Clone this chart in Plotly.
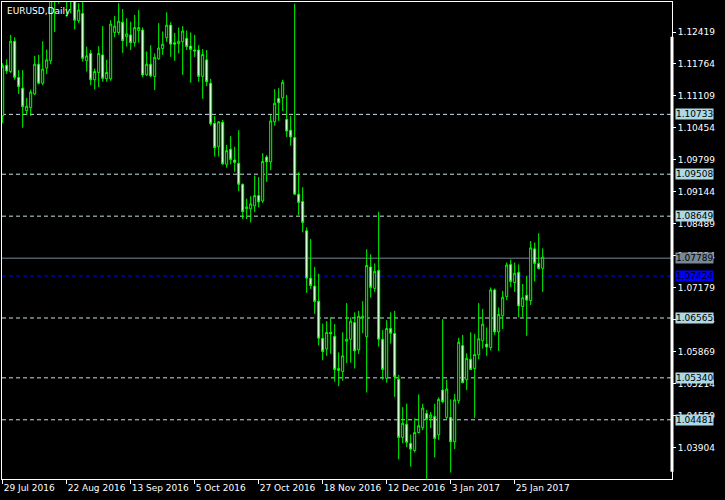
import pandas as pd
import plotly.graph_objects as go

# ---- data (EURUSD daily) ----
dates = [d.strftime("%Y-%m-%d") for d in pd.bdate_range("2016-07-29", "2017-02-03")]

opens = [1.1070, 1.1174, 1.1161, 1.1223, 1.1149, 1.1127, 1.1081, 1.1087, 1.1115, 1.1176,
         1.1137, 1.1168, 1.1183, 1.1310, 1.1320, 1.1350, 1.1325, 1.1320, 1.1310, 1.1265,
         1.1280, 1.1183, 1.1198, 1.1144, 1.1159, 1.1195, 1.1146, 1.1146, 1.1241, 1.1241,
         1.1262, 1.1232, 1.1236, 1.1220, 1.1245, 1.1246, 1.1154, 1.1176, 1.1151, 1.1187,
         1.1208, 1.1230, 1.1256, 1.1220, 1.1218, 1.1222, 1.1229, 1.1213, 1.1205, 1.1205,
         1.1151, 1.1185, 1.1137, 1.1055, 1.1007, 1.1057, 1.0971, 1.1002, 1.0980, 1.0973,
         1.0930, 1.0880, 1.0880, 1.0886, 1.0907, 1.0896, 1.0986, 1.0976, 1.1058, 1.1106,
         1.1107, 1.1063, 1.1041, 1.1026, 1.0910, 1.0895, 1.0835, 1.0738, 1.0722, 1.0691,
         1.0615, 1.0593, 1.0627, 1.0619, 1.0553, 1.0547, 1.0609, 1.0613, 1.0647, 1.0591,
         1.0656, 1.0618, 1.0761, 1.0717, 1.0754, 1.0613, 1.0533, 1.0635, 1.0625, 1.0531,
         1.0412, 1.0439, 1.0400, 1.0385, 1.0422, 1.0432, 1.0461, 1.0452, 1.0455, 1.0417,
         1.0509, 1.0453, 1.0453, 1.0403, 1.0487, 1.0600, 1.0530, 1.0572, 1.0553, 1.0581,
         1.0610, 1.0603, 1.0596, 1.0714, 1.0628, 1.0661, 1.0700, 1.0766, 1.0729, 1.0750,
         1.0680, 1.0703, 1.0692, 1.0798, 1.0768, 1.0758]

highs = [1.1178, 1.1186, 1.1236, 1.1231, 1.1164, 1.1164, 1.1107, 1.1124, 1.1193, 1.1195,
         1.1223, 1.1206, 1.1330, 1.1340, 1.1366, 1.1360, 1.1340, 1.1335, 1.1320, 1.1301,
         1.1340, 1.1212, 1.1205, 1.1167, 1.1213, 1.1254, 1.1185, 1.1266, 1.1275, 1.1301,
         1.1289, 1.1270, 1.1263, 1.1277, 1.1287, 1.1251, 1.1202, 1.1215, 1.1198, 1.1260,
         1.1243, 1.1282, 1.1262, 1.1240, 1.1251, 1.1254, 1.1245, 1.1241, 1.1236, 1.1215,
         1.1207, 1.1205, 1.1146, 1.1070, 1.1060, 1.1062, 1.1011, 1.1029, 1.1007, 1.1041,
         1.0932, 1.0901, 1.0906, 1.0948, 1.0945, 1.0994, 1.0990, 1.1072, 1.1125, 1.1127,
         1.1144, 1.1113, 1.1070, 1.1300, 1.0955, 1.0924, 1.0842, 1.0818, 1.0761, 1.0747,
         1.0645, 1.0650, 1.0658, 1.0644, 1.0586, 1.0627, 1.0687, 1.0658, 1.0668, 1.0671,
         1.0691, 1.0797, 1.0787, 1.0768, 1.0874, 1.0632, 1.0652, 1.0668, 1.0671, 1.0540,
         1.0474, 1.0481, 1.0418, 1.0451, 1.0500, 1.0481, 1.0468, 1.0464, 1.0481, 1.0494,
         1.0654, 1.0530, 1.0490, 1.0501, 1.0616, 1.0622, 1.0584, 1.0627, 1.0624, 1.0687,
         1.0675, 1.0637, 1.0719, 1.0717, 1.0678, 1.0712, 1.0770, 1.0776, 1.0770, 1.0766,
         1.0726, 1.0743, 1.0814, 1.0811, 1.0830, 1.0799]

lows = [1.1055, 1.1156, 1.1158, 1.1144, 1.1115, 1.1046, 1.1072, 1.1070, 1.1113, 1.1135,
        1.1133, 1.1156, 1.1176, 1.1242, 1.1300, 1.1305, 1.1273, 1.1280, 1.1247, 1.1260,
        1.1181, 1.1161, 1.1133, 1.1124, 1.1129, 1.1140, 1.1140, 1.1142, 1.1231, 1.1236,
        1.1199, 1.1212, 1.1205, 1.1212, 1.1220, 1.1149, 1.1152, 1.1149, 1.1123, 1.1185,
        1.1195, 1.1222, 1.1191, 1.1183, 1.1198, 1.1154, 1.1205, 1.1138, 1.1191, 1.1140,
        1.1105, 1.1131, 1.1050, 1.0987, 1.0987, 1.0970, 1.0964, 1.0971, 1.0956, 1.0916,
        1.0859, 1.0859, 1.0852, 1.0873, 1.0883, 1.0892, 1.0935, 1.0959, 1.1050, 1.1060,
        1.1080, 1.1027, 1.1009, 1.0908, 1.0867, 1.0832, 1.0708, 1.0716, 1.0665, 1.0600,
        1.0570, 1.0579, 1.0583, 1.0526, 1.0517, 1.0528, 1.0564, 1.0565, 1.0553, 1.0583,
        1.0625, 1.0504, 1.0698, 1.0710, 1.0598, 1.0530, 1.0524, 1.0604, 1.0495, 1.0367,
        1.0400, 1.0392, 1.0352, 1.0381, 1.0420, 1.0427, 1.0327, 1.0431, 1.0371, 1.0407,
        1.0482, 1.0450, 1.0340, 1.0388, 1.0481, 1.0523, 1.0509, 1.0550, 1.0452, 1.0572,
        1.0594, 1.0579, 1.0590, 1.0622, 1.0589, 1.0634, 1.0693, 1.0720, 1.0710, 1.0658,
        1.0658, 1.0620, 1.0683, 1.0731, 1.0756, 1.0710]

closes = [1.1172, 1.1162, 1.1223, 1.1149, 1.1130, 1.1089, 1.1090, 1.1119, 1.1176, 1.1137,
          1.1166, 1.1185, 1.1310, 1.1320, 1.1350, 1.1325, 1.1320, 1.1310, 1.1266, 1.1287,
          1.1188, 1.1193, 1.1144, 1.1161, 1.1198, 1.1147, 1.1159, 1.1258, 1.1254, 1.1264,
          1.1224, 1.1238, 1.1220, 1.1251, 1.1251, 1.1154, 1.1176, 1.1152, 1.1190, 1.1209,
          1.1217, 1.1256, 1.1217, 1.1217, 1.1223, 1.1244, 1.1212, 1.1206, 1.1203, 1.1151,
          1.1196, 1.1140, 1.1054, 1.1005, 1.1058, 1.0972, 1.0999, 1.0981, 1.0975, 1.0930,
          1.0874, 1.0884, 1.0890, 1.0907, 1.0894, 1.0977, 1.0976, 1.1060, 1.1096, 1.1097,
          1.1139, 1.1039, 1.1027, 1.0910, 1.0893, 1.0852, 1.0738, 1.0723, 1.0690, 1.0615,
          1.0588, 1.0627, 1.0624, 1.0551, 1.0549, 1.0579, 1.0613, 1.0650, 1.0589, 1.0660,
          1.0660, 1.0764, 1.0719, 1.0752, 1.0613, 1.0551, 1.0635, 1.0625, 1.0536, 1.0412,
          1.0441, 1.0402, 1.0388, 1.0422, 1.0436, 1.0472, 1.0449, 1.0458, 1.0410, 1.0490,
          1.0485, 1.0511, 1.0403, 1.0489, 1.0607, 1.0524, 1.0574, 1.0551, 1.0582, 1.0614,
          1.0644, 1.0597, 1.0714, 1.0628, 1.0664, 1.0699, 1.0765, 1.0731, 1.0748, 1.0681,
          1.0698, 1.0693, 1.0800, 1.0768, 1.0758, 1.0781]

price_ticks = [1.12419, 1.11764, 1.11109, 1.10454, 1.09799, 1.09144, 1.08489,
               1.07834, 1.07179, 1.06524, 1.05869, 1.05214, 1.04559, 1.03904]

date_tick_values = ["2016-07-29", "2016-08-22", "2016-09-13", "2016-10-05", "2016-10-27",
                    "2016-11-18", "2016-12-12", "2017-01-03", "2017-01-25"]
date_tick_labels = ["29 Jul 2016", "22 Aug 2016", "13 Sep 2016", "5 Oct 2016", "27 Oct 2016",
                    "18 Nov 2016", "12 Dec 2016", "3 Jan 2017", "25 Jan 2017"]

hline_levels = [1.10733, 1.09508, 1.08649, 1.06565, 1.05340, 1.04481]
bid_level = 1.07789
blue_level = 1.07424

FONT = "DejaVu Sans"
LIME = "#00FF00"

fig = go.Figure()
fig.add_trace(go.Candlestick(
    x=dates, open=opens, high=highs, low=lows, close=closes,
    increasing=dict(line=dict(color=LIME, width=1), fillcolor="#000000"),
    decreasing=dict(line=dict(color=LIME, width=1), fillcolor="#FFFFFF"),
    whiskerwidth=0, hoverinfo="skip", showlegend=False,
))

shapes = []
annotations = []
for lv in hline_levels:
    shapes.append(dict(type="line", xref="paper", x0=0, x1=1, yref="y", y0=lv, y1=lv,
                       line=dict(color="#C9DDE6", width=1, dash="4px,3px"), layer="below"))
    annotations.append(dict(xref="paper", x=1, xanchor="left", xshift=3, yref="y", y=lv,
                            yanchor="middle", text=f"{lv:.5f}", showarrow=False,
                            bgcolor="#ADD8E6", borderpad=0,
                            font=dict(family=FONT, size=9, color="#000000")))

shapes.append(dict(type="line", xref="paper", x0=0, x1=1, yref="y", y0=bid_level, y1=bid_level,
                   line=dict(color="#778899", width=1), layer="below"))
annotations.append(dict(xref="paper", x=1, xanchor="left", xshift=3, yref="y", y=bid_level,
                        yanchor="middle", text=f"{bid_level:.5f}", showarrow=False,
                        bgcolor="#778899", borderpad=0,
                        font=dict(family=FONT, size=9, color="#000000")))

shapes.append(dict(type="line", xref="paper", x0=0, x1=1, yref="y", y0=blue_level, y1=blue_level,
                   line=dict(color="#0000FF", width=1, dash="4px,3px"), layer="below"))
annotations.append(dict(xref="paper", x=1, xanchor="left", xshift=3, yref="y", y=blue_level,
                        yanchor="middle", text=f"{blue_level:.5f}", showarrow=False,
                        bgcolor="#0000FF", borderpad=0,
                        font=dict(family=FONT, size=9, color="#000000")))

# thicker segment on the price scale line
shapes.append(dict(type="line", xref="paper", x0=1, x1=1, yref="paper", y0=0.015, y1=0.927,
                   line=dict(color="#FFFFFF", width=3)))

annotations.append(dict(xref="paper", x=0, xanchor="left", xshift=3, yref="paper", y=1,
                        yanchor="top", yshift=-2, text="EURUSD,Daily", showarrow=False,
                        font=dict(family=FONT, size=9, color="#FFFFFF")))

fig.update_layout(
    width=725, height=500,
    margin=dict(l=2, r=53, t=2, b=21),
    paper_bgcolor="#000000", plot_bgcolor="#000000",
    boxgap=0.5, boxgroupgap=0,
    shapes=shapes, annotations=annotations,
    font=dict(family=FONT, size=9, color="#FFFFFF"),
    xaxis=dict(type="category", range=[-0.175, 167.325], rangeslider=dict(visible=False),
               showline=True, linecolor="#FFFFFF", linewidth=1, mirror=True,
               showgrid=False, zeroline=False,
               ticks="outside", ticklen=4, tickcolor="#FFFFFF", tickwidth=1,
               tickvals=date_tick_values, ticktext=date_tick_labels,
               ticklabelposition="outside right", tickangle=0,
               tickfont=dict(family=FONT, size=9, color="#FFFFFF")),
    yaxis=dict(side="right", range=[1.03269, 1.13033],
               showline=True, linecolor="#FFFFFF", linewidth=1, mirror=True,
               showgrid=False, zeroline=False,
               ticks="outside", ticklen=3, tickcolor="#FFFFFF", tickwidth=1,
               tickvals=price_ticks, ticktext=[f"{v:.5f}" for v in price_ticks],
               tickfont=dict(family=FONT, size=9, color="#FFFFFF")),
)

fig.write_html("out.html", config={"displayModeBar": False},
               post_script="document.body.style.margin='0px';document.body.style.background='#000';")
